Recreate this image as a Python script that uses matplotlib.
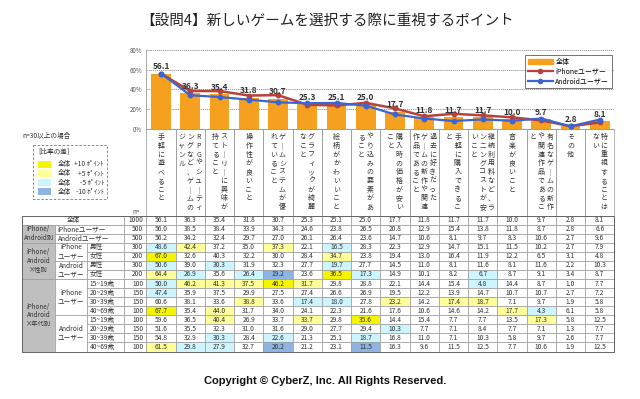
import matplotlib.pyplot as plt
from matplotlib.patches import Rectangle, Patch
from matplotlib.lines import Line2D

plt.rcParams['font.family'] = ['Noto Sans CJK JP', 'DejaVu Sans']

# 回答項目 ("/" は縦書きの改行位置)
categories = [
    "手軽に遊べること",
    "RPGやシューティ/ングなど、ゲームの/ジャンル",
    "ストーリーに興味が/持てること",
    "操作性が良いこと",
    "ゲームシステムが優/れていること",
    "グラフィックが綺麗/なこと",
    "絵柄がかわいいこと",
    "やり込みの要素があ/ること",
    "購入時の価格が安い/こと",
    "過去に好きだった/ゲームの新作や関連/作品であること",
    "手軽に購入できるこ/と",
    "継続利用料など、ラ/ンニングコストが安/いこと",
    "音楽が良いこと",
    "有名なゲームの新作/や関連作品であるこ/と",
    "その他",
    "特に重視することは/ない",
]

total = [56.1, 36.3, 35.4, 31.8, 30.7, 25.3, 25.1, 25.0, 17.7, 11.8, 11.7, 11.7, 10.0, 9.7, 2.8, 8.1]
iphone = [56.0, 38.5, 38.4, 33.9, 34.3, 24.6, 23.8, 26.5, 20.8, 12.9, 15.4, 13.8, 11.8, 8.7, 2.8, 6.6]
android = [56.2, 34.2, 32.4, 29.7, 27.0, 26.1, 26.4, 23.6, 14.7, 10.6, 8.1, 9.7, 8.3, 10.6, 2.7, 9.6]
iphone_male = [48.6, 42.4, 37.2, 35.0, 37.3, 22.1, 16.5, 28.3, 22.3, 12.9, 14.7, 15.1, 11.5, 10.2, 2.7, 7.9]
iphone_female = [67.0, 32.6, 40.3, 32.2, 30.0, 28.4, 34.7, 23.8, 19.4, 13.0, 16.4, 11.9, 12.2, 6.5, 3.1, 4.8]
android_male = [50.6, 39.0, 30.3, 31.9, 32.3, 27.7, 19.7, 27.7, 14.5, 11.0, 8.1, 11.6, 8.1, 11.6, 2.2, 10.3]
android_female = [64.4, 26.9, 35.6, 26.4, 19.2, 23.6, 36.5, 17.3, 14.9, 10.1, 8.2, 6.7, 8.7, 9.1, 3.4, 8.7]
iphone_15_19 = [50.0, 46.2, 41.3, 37.5, 46.2, 31.7, 29.8, 28.8, 22.1, 14.4, 15.4, 4.8, 14.4, 8.7, 1.0, 7.7]
iphone_20_29 = [47.4, 35.9, 37.5, 29.9, 27.5, 27.4, 26.6, 26.9, 19.5, 12.2, 13.9, 14.7, 10.7, 10.7, 2.7, 7.2]
iphone_30_39 = [60.6, 38.1, 33.6, 38.8, 33.6, 17.4, 18.0, 27.8, 23.2, 14.2, 17.4, 18.7, 7.1, 9.7, 1.9, 5.8]
iphone_40_69 = [67.7, 35.4, 44.0, 31.7, 34.0, 24.1, 22.3, 21.6, 17.6, 10.6, 14.6, 14.2, 17.7, 4.3, 6.1, 5.8]
android_15_19 = [59.6, 36.5, 40.4, 26.9, 33.7, 33.7, 29.8, 35.6, 14.4, 15.4, 7.7, 7.7, 13.5, 17.3, 5.8, 12.5]
android_20_29 = [51.6, 35.5, 32.3, 31.0, 31.6, 29.0, 27.7, 29.4, 10.3, 7.7, 7.1, 8.4, 7.7, 7.1, 1.3, 7.7]
android_30_39 = [54.8, 32.9, 30.3, 28.4, 22.6, 21.3, 25.1, 18.7, 16.8, 11.0, 7.1, 10.3, 5.8, 9.7, 2.6, 7.7]
android_40_69 = [61.5, 29.8, 27.9, 32.7, 20.2, 21.2, 23.1, 11.5, 16.3, 9.6, 11.5, 12.5, 7.7, 10.6, 1.9, 12.5]

n_counts = [1000, 500, 500, 300, 200, 300, 200, 100, 150, 150, 100, 100, 150, 150, 100]
ages = ["15~19歳", "20~29歳", "30~39歳", "40~69歳"]

table_rows = [total, iphone, android, iphone_male, iphone_female, android_male, android_female,
              iphone_15_19, iphone_20_29, iphone_30_39, iphone_40_69,
              android_15_19, android_20_29, android_30_39, android_40_69]

ORANGE = '#F5A01E'
RED = '#B8423A'
BLUE = '#3C64D2'
GRAY = '#BFBFBF'
LINE = '#9a9a9a'

fig = plt.figure(figsize=(6.4, 3.99), dpi=100)
ax0 = fig.add_axes([0, 0, 1, 1])
ax0.set_xlim(0, 640)
ax0.set_ylim(399, 0)
ax0.axis('off')

X0 = 146.4
CW = 29.25
Y_TOP = 50
Y_BASE = 129

fig.text(327 / 640, 1 - 21 / 399, "【設問4】新しいゲームを選択する際に重視するポイント",
         ha='center', va='center', fontsize=10.5, color='#222')

# グラフ部分
ax = fig.add_axes([X0 / 640, 1 - Y_BASE / 399, 16 * CW / 640, (Y_BASE - Y_TOP) / 399])
x = list(range(16))
ax.bar(x, total, width=0.68, color=ORANGE, zorder=2)
ax.plot(x, iphone, color=RED, marker='o', ms=3.2, lw=1.8, zorder=3)
ax.plot(x, android, color=BLUE, marker='o', ms=3.2, lw=1.6, zorder=4)
ax.set_xlim(-0.5, 15.5)
ax.set_ylim(0, 80)
ax.set_yticks([0, 20, 40, 60, 80])
ax.set_yticklabels([f"{t}%" for t in [0, 20, 40, 60, 80]], fontsize=4.5, color='#555')
ax.tick_params(axis='y', length=0, pad=3)
ax.set_xticks([])
for s in ['top', 'right']:
    ax.spines[s].set_visible(False)
for s in ['left', 'bottom']:
    ax.spines[s].set_color('#999')
    ax.spines[s].set_linewidth(0.6)
for t in [20, 40, 60, 80]:
    ax.axhline(t, color='#888', ls=(0, (1.5, 1)), lw=0.6, zorder=1)
for i, v in enumerate(total):
    ax.text(i, v + 2.5, f"{v:.1f}", ha='center', va='bottom', fontsize=6,
            fontweight='bold', color='#333', zorder=5)

handles = [Patch(color=ORANGE),
           Line2D([], [], color=RED, marker='o', ms=3, lw=1.6),
           Line2D([], [], color=BLUE, marker='o', ms=3, lw=1.6)]
leg = ax.legend(handles, ["全体", "iPhoneユーザー", "Androidユーザー"], loc='upper right',
                bbox_to_anchor=(0.995, 0.94), fontsize=5, frameon=True, fancybox=False,
                borderpad=0.4, labelspacing=0.25, handlelength=3.6, handletextpad=0.4,
                borderaxespad=0)
leg.get_frame().set_edgecolor('#333')
leg.get_frame().set_linewidth(0.6)

# 縦書きの項目名
for i, cat in enumerate(categories):
    left = X0 + i * CW
    ax0.add_patch(Rectangle((left, Y_BASE), CW, 215.5 - Y_BASE, fill=False, ec=LINE, lw=0.5))
    cols = cat.split("/")
    k = len(cols)
    cx = left + CW / 2
    for j, col in enumerate(cols):
        xc = cx + (k - 1) / 2 * 8.5 - j * 8.5
        txt = "\n".join(col.replace("ー", "｜"))
        ax0.text(xc, 133, txt, ha='center', va='top', fontsize=5, linespacing=1.13,
                 color='#333')

ax0.text(140, 212, "n=", ha='right', va='center', fontsize=4.5, color='#444')

# 比率の差の凡例
ax0.text(22, 136, "n=30以上の場合", ha='left', va='center', fontsize=4.8, color='#333')
ax0.add_patch(Rectangle((33, 145), 74, 54, fill=False, ec='#777', lw=0.6, ls=(0, (3, 2))))
ax0.text(38, 152, "[比率の差]", ha='left', va='center', fontsize=4.8, color='#333')
key_colors = ['#F5F500', '#FFFF99', '#CCF5FF', '#8DB4E2']
key_texts = ["+10 ﾎﾟｲﾝﾄ", "+5 ﾎﾟｲﾝﾄ", "-5 ﾎﾟｲﾝﾄ", "-10 ﾎﾟｲﾝﾄ"]
for r, (c, t) in enumerate(zip(key_colors, key_texts)):
    yy = 164 + r * 9.3
    ax0.add_patch(Rectangle((38, yy - 3.5), 13, 7, color=c, lw=0))
    ax0.text(58, yy, "全体", ha='left', va='center', fontsize=4.8, color='#333')
    ax0.text(104, yy, t, ha='right', va='center', fontsize=4.8, color='#333')

# 表
T_TOP = 215.5
RH = 9.07
XA, XB, XC, XN = 22, 55, 87, 124


def cell(x1, x2, r1, r2, text='', fc='white', ha='center', fs=4.8):
    y1 = T_TOP + r1 * RH
    h = (r2 - r1) * RH
    ax0.add_patch(Rectangle((x1, y1), x2 - x1, h, fc=fc, ec=LINE, lw=0.5))
    if text:
        if ha == 'left':
            tx = x1 + 2.5
        elif ha == 'right':
            tx = x2 - 3
        else:
            tx = (x1 + x2) / 2
        ax0.text(tx, y1 + h / 2, text, ha=ha, va='center', fontsize=fs,
                 color='#333', linespacing=1.1)


cell(XA, XN, 0, 1, "全体")
cell(XA, XB, 1, 3, "iPhone/\nAndroid別", fc=GRAY, fs=4.5)
cell(XB, XN, 1, 2, "iPhoneユーザー", ha='left')
cell(XB, XN, 2, 3, "Androidユーザー", ha='left')
cell(XA, XB, 3, 7, "iPhone/\nAndroid\n×性別", fc=GRAY, fs=4.5)
cell(XB, XC, 3, 5, "iPhone\nユーザー")
cell(XB, XC, 5, 7, "Android\nユーザー")
for r, g in enumerate(["男性", "女性", "男性", "女性"]):
    cell(XC, XN, 3 + r, 4 + r, g, ha='left')
cell(XA, XB, 7, 15, "iPhone/\nAndroid\n×年代別", fc=GRAY, fs=4.5)
cell(XB, XC, 7, 11, "iPhone\nユーザー")
cell(XB, XC, 11, 15, "Android\nユーザー")
for r, a in enumerate(ages + ages):
    cell(XC, XN, 7 + r, 8 + r, a, ha='left')
for r, n in enumerate(n_counts):
    cell(XN, X0, r, r + 1, str(n), ha='right')

for r, row in enumerate(table_rows):
    for j, v in enumerate(row):
        d = round(v - total[j], 1)
        fc = 'white'
        if r > 0:
            if d >= 10:
                fc = key_colors[0]
            elif d >= 5:
                fc = key_colors[1]
            elif d <= -10:
                fc = key_colors[3]
            elif d <= -5:
                fc = key_colors[2]
        cell(X0 + j * CW, X0 + (j + 1) * CW, r, r + 1, f"{v:.1f}", fc=fc)

ax0.add_patch(Rectangle((XA, T_TOP), X0 + 16 * CW - XA, 15 * RH, fill=False, ec='#666', lw=0.7))

fig.text(325 / 640, 1 - 381 / 399, "Copyright © CyberZ, Inc. All Rights Reserved.",
         ha='center', va='center', fontsize=8, fontweight='bold',
         family=['Liberation Sans', 'DejaVu Sans'], color='#111')

fig.savefig("out.png", dpi=100)
